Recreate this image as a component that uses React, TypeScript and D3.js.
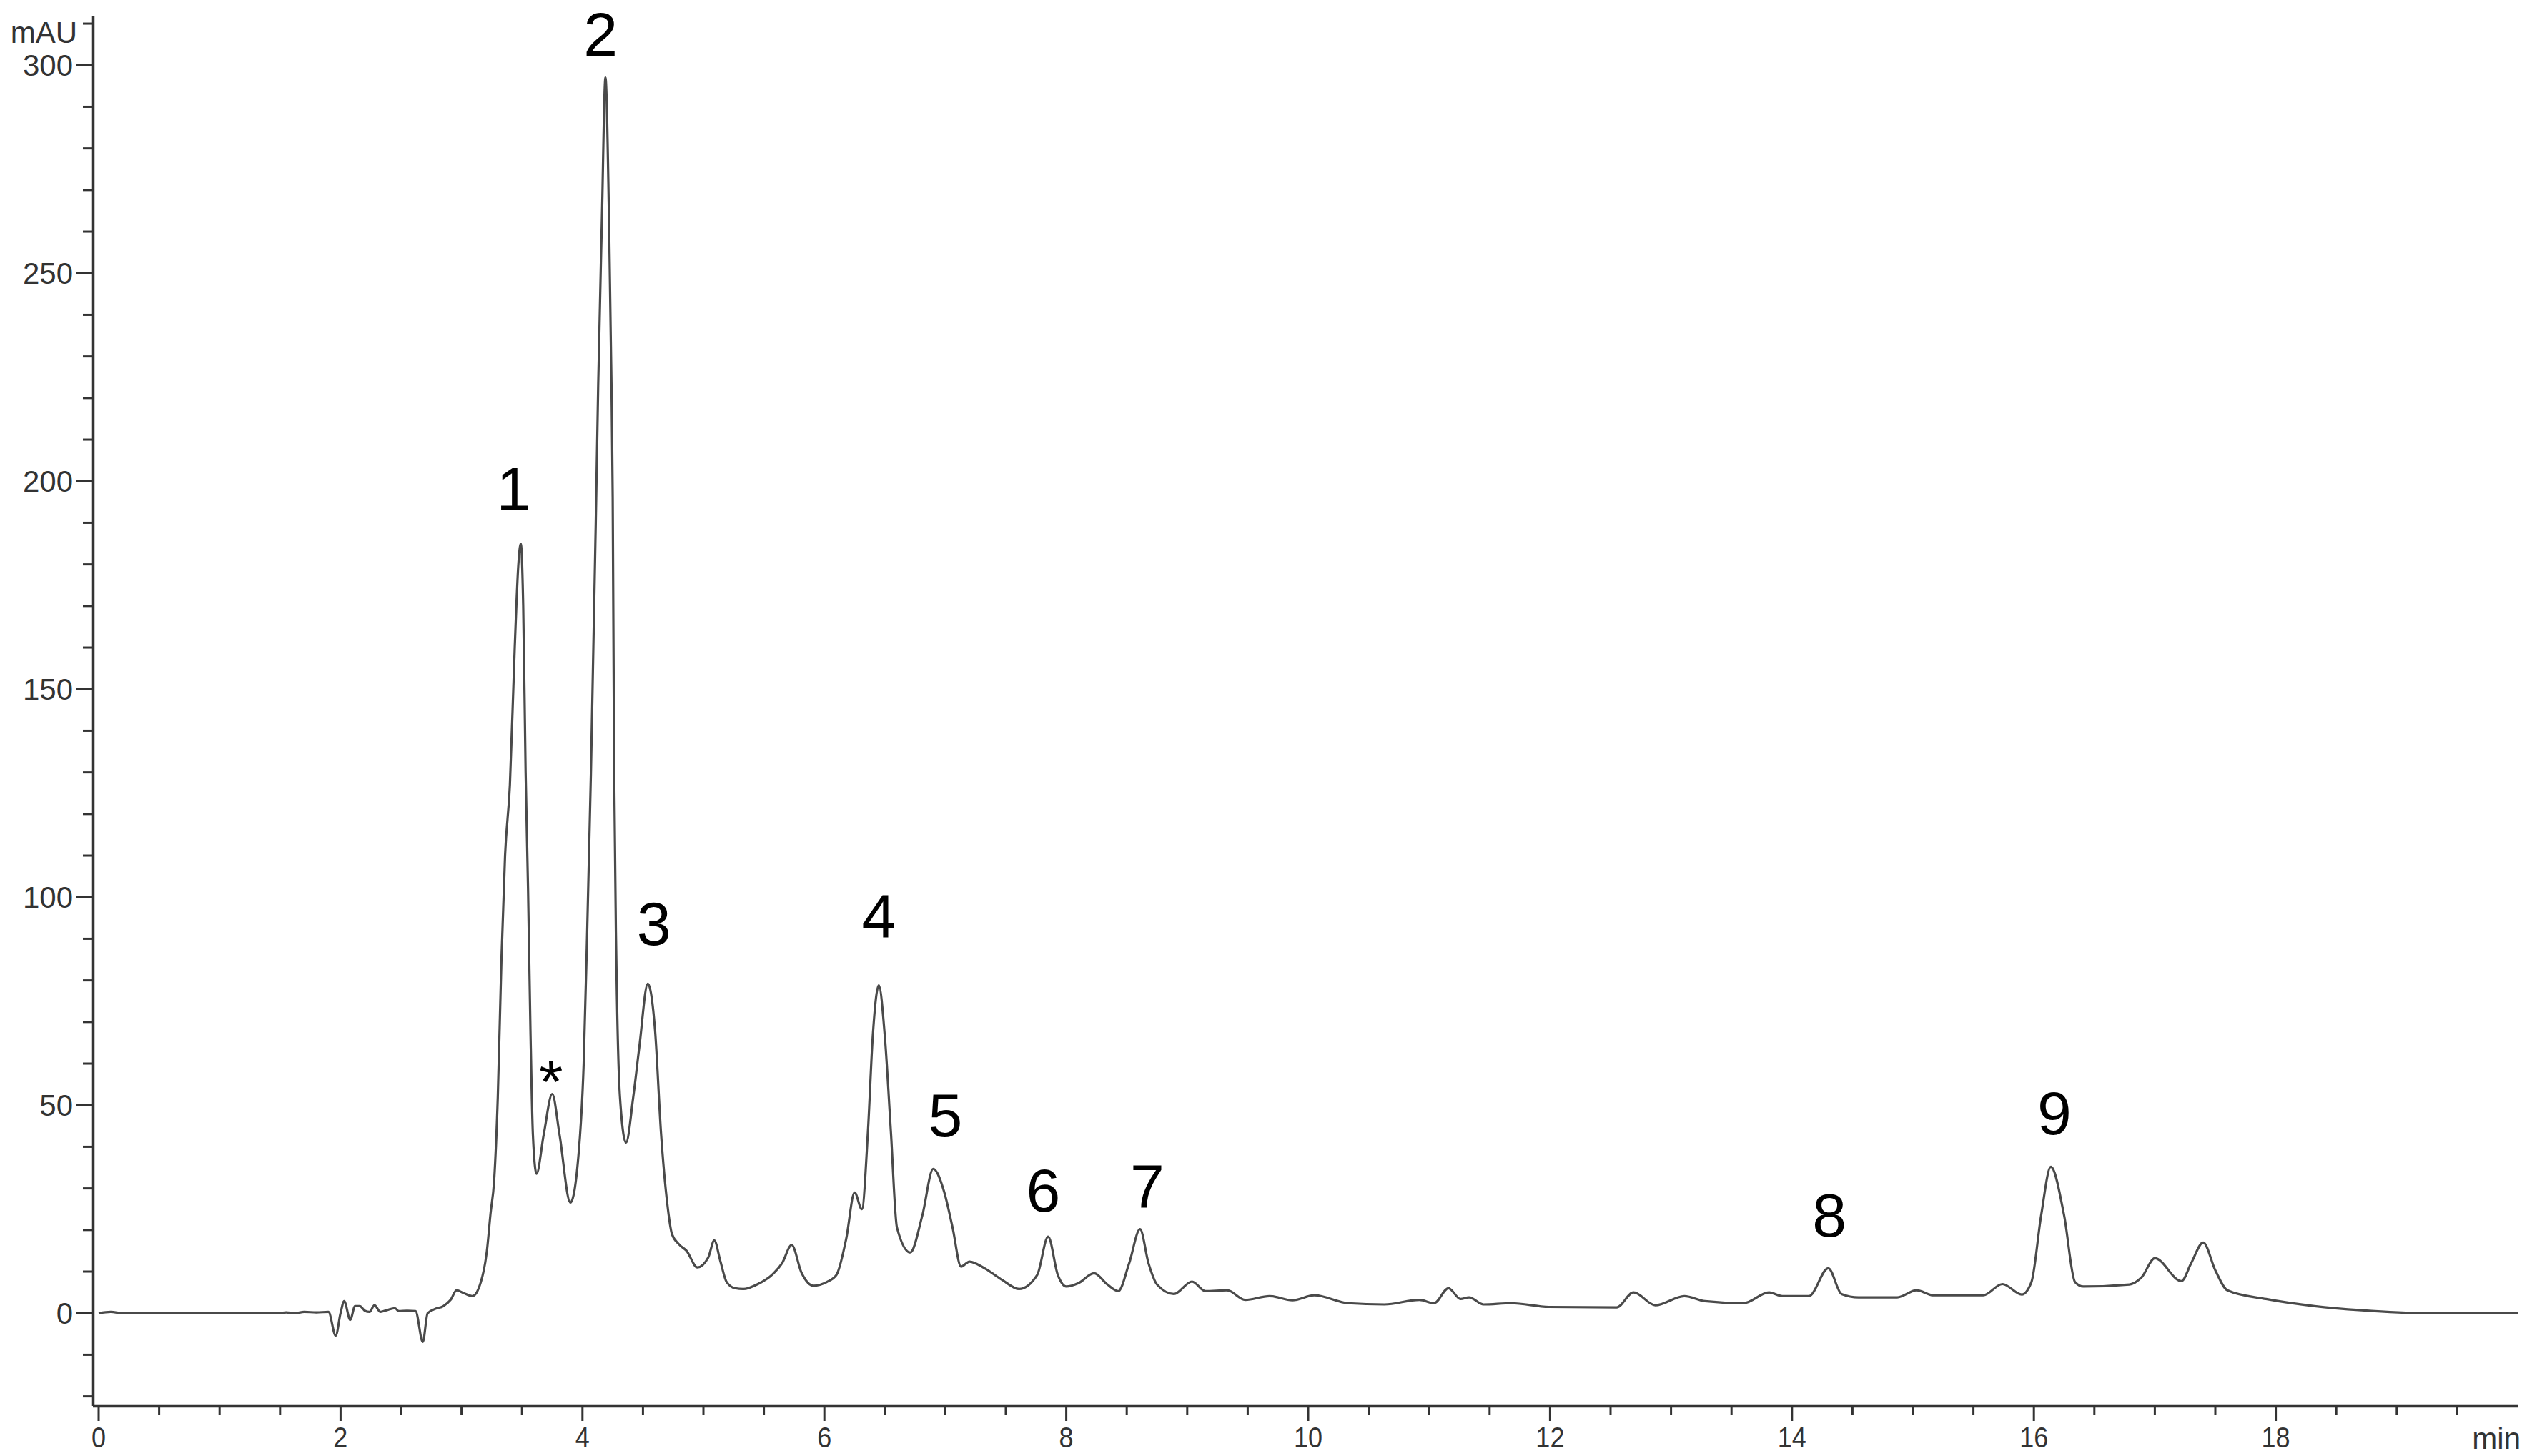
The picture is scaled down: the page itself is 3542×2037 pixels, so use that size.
import React from "react";
import * as d3 from "d3";

// ---- data ----
const retentionTime: number[] = [
  0, 0.1, 0.2, 1.0, 1.5, 1.55, 1.62, 1.7, 1.8, 1.9, 1.96, 2.0, 2.03, 2.08, 2.12, 2.16, 2.2, 2.24, 2.28, 2.33,
  2.38, 2.45, 2.48, 2.55, 2.62, 2.68, 2.72, 2.78, 2.85, 2.91, 2.96, 3.02, 3.09, 3.16, 3.21, 3.24, 3.27, 3.3,
  3.33, 3.36, 3.4, 3.44, 3.47, 3.49, 3.51, 3.53, 3.55, 3.57, 3.59, 3.62, 3.68, 3.75, 3.81, 3.9, 3.97, 4.01,
  4.04, 4.07, 4.11, 4.13, 4.16, 4.19, 4.22, 4.24, 4.25, 4.262, 4.28, 4.31, 4.36, 4.42, 4.47, 4.54, 4.6, 4.65,
  4.7, 4.74, 4.8, 4.86, 4.95, 5.04, 5.09, 5.14, 5.19, 5.26, 5.33, 5.45, 5.57, 5.65, 5.73, 5.81, 5.91, 6.02,
  6.1, 6.18, 6.25, 6.31, 6.36, 6.4, 6.45, 6.5, 6.55, 6.6, 6.71, 6.81, 6.9, 6.99, 7.06, 7.13, 7.2, 7.33, 7.47,
  7.61, 7.76, 7.85, 7.93, 8.0, 8.1, 8.23, 8.34, 8.43, 8.52, 8.61, 8.68, 8.75, 8.89, 9.04, 9.15, 9.33, 9.48,
  9.68, 9.87, 10.05, 10.33, 10.63, 10.92, 11.04, 11.16, 11.26, 11.33, 11.45, 11.68, 11.99, 12.55, 12.69,
  12.87, 13.11, 13.28, 13.6, 13.81, 13.92, 14.14, 14.3, 14.41, 14.55, 14.87, 15.03, 15.17, 15.58, 15.74,
  15.9, 15.98, 16.06, 16.14, 16.25, 16.34, 16.41, 16.79, 16.89, 17.0, 17.22, 17.3, 17.4, 17.5, 17.6, 17.92,
  18.32, 18.71, 19.23, 20.0,
];
const absorbance: number[] = [
  0, 0.3, 0, 0, 0, 0.2, 0, 0.3, 0.2, 0.3, -5.4, 0, 2.9, -1.6, 1.7, 1.7, 0.6, 0.3, 1.9, 0.3,
  0.7, 1.2, 0.5, 0.6, 0.5, -6.9, 0, 1.0, 1.7, 3.2, 5.5, 4.8, 4.1, 7.5, 15, 24, 32, 52,
  85, 110, 127, 160, 180, 185, 170, 130, 102, 68, 43, 33.5, 43, 52.7, 43, 26.6, 39, 60,
  93, 130, 190, 223, 262, 297, 262, 223, 196, 130, 85, 52, 41, 52, 64, 79.2, 68, 43,
  26.6, 19, 16.5, 15, 11, 13.4, 17.5, 12.5, 7.6, 6, 5.8, 7, 9.3, 12, 16.4, 9.8, 6.6, 7.5,
  9.2, 17.8, 29, 25, 43.6, 66.5, 78.8, 66.5, 43.6, 20.6, 14.6, 23.5, 34.7, 29.2, 20.6, 11.2, 12.4, 10.7, 8,
  5.8, 9.2, 18.4, 9.2, 6.4, 7.2, 9.6, 6.9, 5.3, 12, 20.2, 12, 6.9, 4.6, 7.6, 5.3, 5.5, 3.2,
  4.1, 3.1, 4.3, 2.4, 2.1, 3.2, 2.4, 6, 3.4, 3.8, 2.1, 2.4, 1.5, 1.4, 5,
  1.9, 4.1, 2.9, 2.4, 5, 4.1, 4.1, 10.8, 4.6, 3.8, 3.8, 5.5, 4.3, 4.3, 7,
  4.5, 7.5, 23.5, 35.2, 23.5, 7.5, 6.4, 6.9, 8.6, 13.2, 7.7, 12, 17, 10.3, 5.5, 3.4,
  1.7, 0.7, 0, 0,
];

// peak annotations
const peakLabels: string[] = ["1", "2", "*", "3", "4", "5", "6", "7", "8", "9"];
const peakLabelTime: number[] = [3.43, 4.15, 3.74, 4.59, 6.45, 7.0, 7.81, 8.67, 14.31, 16.17];
const peakLabelValue: number[] = [193, 302.2, 50.5, 88.5, 90.5, 42.5, 24.5, 25.5, 18.5, 43];

// axis ticks
const xMajorTicks: number[] = [0, 2, 4, 6, 8, 10, 12, 14, 16, 18];
const xMinorTicks: number[] = d3.range(0.5, 20, 0.5).filter((t) => t % 2 !== 0);
const yMajorTicks: number[] = [0, 50, 100, 150, 200, 250, 300];
const yMinorTicks: number[] = d3.range(-20, 311, 10).filter((v) => v % 50 !== 0);
const yUnit = "mAU";
const xUnit = "min";

const W = 3542;
const H = 2037;
const FONT = "'Liberation Sans', Arial, Helvetica, sans-serif";

export default function App() {
  const x = d3.scaleLinear().domain([0, 20]).range([138, 3522]);
  const y = d3.scaleLinear().domain([-22.3, 311.9]).range([1967, 22]);

  const pts = retentionTime.map((t, i) => [t, absorbance[i]] as [number, number]);
  const line = d3
    .line<[number, number]>()
    .x((d) => x(d[0]))
    .y((d) => y(d[1]))
    .curve(d3.curveMonotoneX);

  const axisX0 = 130;
  const axisYbottom = y(-22.3);
  const axisColor = "#333";

  return (
    <svg
      width={W}
      height={H}
      viewBox={`0 0 ${W} ${H}`}
      style={{ position: "absolute", left: 0, top: 0, display: "block", background: "#fff" }}
    >
      <rect x={0} y={0} width={W} height={H} fill="#fff" />
      {/* chromatogram trace */}
      <path d={line(pts) || ""} fill="none" stroke="#4a4a4a" strokeWidth={3.2} strokeLinejoin="round" />

      {/* y axis */}
      <line x1={axisX0} x2={axisX0} y1={y(311.9)} y2={axisYbottom} stroke={axisColor} strokeWidth={4.5} />
      {yMajorTicks.map((v) => (
        <g key={"ym" + v}>
          <line x1={axisX0 - 24} x2={axisX0} y1={y(v)} y2={y(v)} stroke={axisColor} strokeWidth={3} />
          <text
            x={102}
            y={y(v)}
            dy="0.36em"
            textAnchor="end"
            fontFamily={FONT}
            fontSize={42}
            fill="#333"
          >
            {v}
          </text>
        </g>
      ))}
      {yMinorTicks.map((v) => (
        <line key={"yn" + v} x1={axisX0 - 14} x2={axisX0} y1={y(v)} y2={y(v)} stroke={axisColor} strokeWidth={3} />
      ))}
      <text x={108} y={60} textAnchor="end" fontFamily={FONT} fontSize={42} fill="#333">
        {yUnit}
      </text>

      {/* x axis */}
      <line x1={axisX0} x2={x(20)} y1={axisYbottom} y2={axisYbottom} stroke={axisColor} strokeWidth={4.5} />
      {xMajorTicks.map((t) => (
        <g key={"xm" + t}>
          <line x1={x(t)} x2={x(t)} y1={axisYbottom} y2={axisYbottom + 21} stroke={axisColor} strokeWidth={3} />
          <text
            x={x(t)}
            y={2025}
            textAnchor="middle"
            fontFamily={FONT}
            fontSize={40}
            fill="#333"
            transform={`translate(${x(t)},0) scale(0.9,1) translate(${-x(t)},0)`}
          >
            {t}
          </text>
        </g>
      ))}
      {xMinorTicks.map((t) => (
        <line key={"xn" + t} x1={x(t)} x2={x(t)} y1={axisYbottom} y2={axisYbottom + 12} stroke={axisColor} strokeWidth={3} />
      ))}
      <text x={3526} y={2027} textAnchor="end" fontFamily={FONT} fontSize={42} fill="#333">
        {xUnit}
      </text>

      {/* peak labels */}
      {peakLabels.map((lab, i) => (
        <text
          key={"pl" + i}
          x={x(peakLabelTime[i])}
          y={y(peakLabelValue[i])}
          textAnchor="middle"
          fontFamily={FONT}
          fontSize={86}
          fill="#000"
        >
          {lab}
        </text>
      ))}
    </svg>
  );
}
